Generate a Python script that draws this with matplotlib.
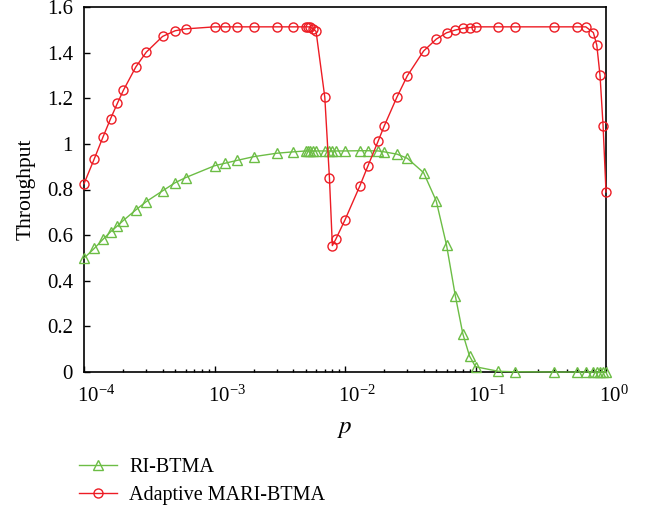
import matplotlib
matplotlib.use("Agg")
import matplotlib.pyplot as plt
from matplotlib.ticker import FormatStrFormatter, LogLocator, NullFormatter
from matplotlib.transforms import ScaledTranslation

plt.rcParams["font.family"] = ["Liberation Serif", "DejaVu Serif"]
plt.rcParams["mathtext.fontset"] = "stix"

# Adaptive MARI-BTMA throughput vs p
p_mari = [1e-4, 1.2e-4, 1.4e-4, 1.6e-4, 1.8e-4, 2e-4, 2.5e-4, 3e-4, 4e-4, 5e-4,
          6e-4, 1e-3, 1.2e-3, 1.5e-3, 2e-3, 3e-3, 4e-3, 5e-3, 5.2e-3, 5.4e-3,
          5.7e-3, 6e-3, 7e-3, 7.6e-3, 8e-3, 8.5e-3, 1e-2, 1.3e-2, 1.5e-2, 1.8e-2,
          2e-2, 2.5e-2, 3e-2, 4e-2, 5e-2, 6e-2, 7e-2, 8e-2, 9e-2, 0.1,
          0.15, 0.2, 0.4, 0.6, 0.7, 0.8, 0.85, 0.9, 0.95, 1.0]
thr_mari = [0.825, 0.935, 1.031, 1.111, 1.177, 1.234, 1.338, 1.402, 1.471, 1.496,
            1.504, 1.513, 1.513, 1.513, 1.513, 1.513, 1.513, 1.513, 1.513, 1.512,
            1.504, 1.493, 1.205, 0.850, 0.554, 0.582, 0.667, 0.816, 0.904, 1.014,
            1.079, 1.205, 1.298, 1.407, 1.459, 1.487, 1.499, 1.506, 1.510, 1.513,
            1.513, 1.513, 1.513, 1.513, 1.513, 1.488, 1.433, 1.300, 1.079, 0.789]

# RI-BTMA throughput vs p
p_ri = [1e-4, 1.2e-4, 1.4e-4, 1.6e-4, 1.8e-4, 2e-4, 2.5e-4, 3e-4, 4e-4, 5e-4,
        6e-4, 1e-3, 1.2e-3, 1.5e-3, 2e-3, 3e-3, 4e-3, 5e-3, 5.2e-3, 5.4e-3,
        5.7e-3, 6e-3, 7e-3, 7.6e-3, 8e-3, 8.5e-3, 1e-2, 1.3e-2, 1.5e-2, 1.8e-2,
        2e-2, 2.5e-2, 3e-2, 4e-2, 5e-2, 6e-2, 7e-2, 8e-2, 9e-2, 0.1,
        0.15, 0.2, 0.4, 0.6, 0.7, 0.8, 0.85, 0.9, 0.95, 1.0]
thr_ri = [0.499, 0.542, 0.582, 0.615, 0.640, 0.664, 0.711, 0.747, 0.794, 0.830,
          0.852, 0.904, 0.915, 0.928, 0.944, 0.959, 0.965, 0.969, 0.969, 0.969,
          0.969, 0.969, 0.969, 0.969, 0.969, 0.969, 0.969, 0.970, 0.970, 0.969,
          0.965, 0.955, 0.937, 0.874, 0.750, 0.556, 0.335, 0.167, 0.070, 0.023,
          0.003, 0.001, 0.0, 0.0, 0.0, 0.0, 0.0, 0.0, 0.0, 0.0]

red = "#ed1c24"
green = "#6cbd45"

fig = plt.figure(figsize=(6.48, 5.14), dpi=100)
ax = fig.add_axes([84 / 648, 1 - 372 / 514, (606 - 84) / 648, (372 - 7) / 514])

ax.plot(p_ri, thr_ri, color=green, lw=1.0, marker="^", ms=7, mfc="none",
        mec=green, mew=1.0, label="RI-BTMA", clip_on=False, zorder=3)
ax.plot(p_mari, thr_mari, color=red, lw=1.0, marker="o", ms=6.5, mfc="none",
        mec=red, mew=1.0, label="Adaptive MARI-BTMA", clip_on=False, zorder=4)

ax.set_xscale("log")
ax.set_xlim(1e-4, 1)
ax.set_ylim(0, 1.6)
ax.set_yticks([0, 0.2, 0.4, 0.6, 0.8, 1.0, 1.2, 1.4, 1.6])
ax.yaxis.set_major_formatter(FormatStrFormatter("%g"))
ax.xaxis.set_major_locator(LogLocator(base=10, numticks=10))
ax.xaxis.set_minor_locator(LogLocator(base=10, subs=range(2, 10), numticks=10))
ax.xaxis.set_minor_formatter(NullFormatter())

ax.tick_params(which="both", direction="in", top=False, right=False,
               labelsize=15, width=1.0)
ax.tick_params(which="major", length=4)
ax.tick_params(axis="y", which="major", pad=8)
ax.tick_params(axis="x", which="major", pad=10)
ax.tick_params(which="minor", length=2.5)
for s in ax.spines.values():
    s.set_linewidth(1.2)

ax.set_ylabel("Throughput", fontsize=15.5, labelpad=8)
ax.set_xlabel("$p$", fontsize=18, labelpad=8)

ax.legend(loc="upper left", bbox_to_anchor=(-0.01, -0.235), frameon=False,
          fontsize=14.5, borderpad=0, borderaxespad=0, handlelength=1.9,
          handletextpad=0.6, labelspacing=0.45)

# decade labels start just left of the tick so "10" sits over it
fig.canvas.draw()
shift = ScaledTranslation(-7 / 100, 0, fig.dpi_scale_trans)
for tick in ax.xaxis.get_major_ticks():
    tick.label1.set_horizontalalignment("left")
    tick.label1.set_transform(tick.label1.get_transform() + shift)

fig.savefig("out.png", dpi=100)
